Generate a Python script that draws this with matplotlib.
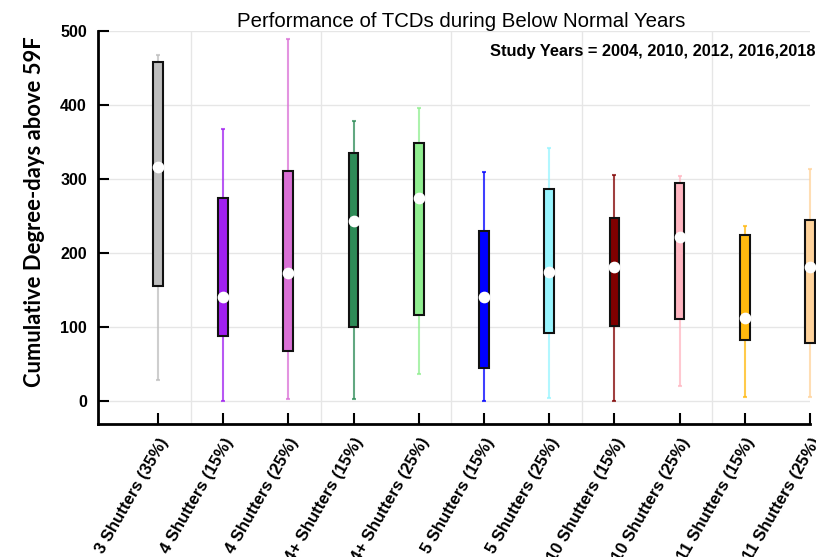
import numpy as np
import matplotlib
matplotlib.use("Agg")
import matplotlib.pyplot as plt

# data
categories = ["3 Shutters (35%)", "4 Shutters (15%)", "4 Shutters (25%)",
              "4+ Shutters (15%)", "4+ Shutters (25%)", "5 Shutters (15%)",
              "5 Shutters (25%)", "10 Shutters (15%)", "10 Shutters (25%)",
              "11 Shutters (15%)", "11 Shutters (25%)"]
box_low = [155, 88, 68, 100, 116, 45, 92, 102, 111, 82, 78]
box_high = [458, 275, 311, 335, 349, 230, 286, 248, 295, 225, 245]
whisk_low = [29, 0, 3, 3, 36, 0, 4, 0, 20, 5, 5]
whisk_high = [467, 368, 489, 379, 396, 310, 342, 305, 304, 237, 313]
medians = [316, 140, 173, 243, 275, 140, 175, 181, 221, 112, 181]
colors = ["#BEBEBE", "#A020F0", "#DA70D6", "#2E8B57", "#90EE90", "#0000FF",
          "#98F5FF", "#800000", "#FFB6C1", "#FFB90F", "#FFD39B"]

plt.rcParams['font.family'] = ['Liberation Sans', 'DejaVu Sans']

fig = plt.figure(figsize=(8.16, 5.57), dpi=100)
ax = fig.add_axes([98/816, 1-424/557, 712/816, 393/557])

x = np.arange(len(categories))
heights = np.array(box_high) - np.array(box_low)

# whiskers + caps
for i in range(len(x)):
    ax.vlines(x[i], whisk_low[i], whisk_high[i], color=colors[i], alpha=0.75,
              lw=1.5, zorder=2, clip_on=False)
    ax.hlines([whisk_low[i], whisk_high[i]], x[i]-0.03, x[i]+0.03, color=colors[i],
              alpha=0.75, lw=1.5, zorder=2, clip_on=False)

bars = ax.bar(x, heights, bottom=box_low, width=0.15, color=colors,
              edgecolor="#111111", linewidth=1.5, zorder=3)
for b in bars:
    b.set_clip_on(False)
ax.scatter(x, medians, s=55, color="white", zorder=4, clip_on=False)

ax.set_xlim(-0.92, 10)
ax.set_ylim(-31, 500)
ax.set_yticks([0, 100, 200, 300, 400, 500])
ax.set_xticks(x)
ax.set_xticklabels(categories, rotation=60, ha='right', rotation_mode='anchor',
                   fontsize=12, fontweight='bold')
for lab in ax.get_yticklabels():
    lab.set_fontweight('bold')
    lab.set_fontsize(11.5)

ax.set_xticks([0.5, 2.5, 4.5, 6.5, 8.5], minor=True)
ax.grid(axis='y', color="#E6E6E6", lw=1, zorder=0)
ax.grid(axis='x', which='minor', color="#E6E6E6", lw=1, zorder=0)
ax.tick_params(which='minor', length=0)
ax.tick_params(direction='in', length=8, width=1.5)
ax.tick_params(axis='x', pad=8)
ax.tick_params(axis='y', pad=8)
ax.set_axisbelow(True)

for s in ['top', 'right']:
    ax.spines[s].set_visible(False)
for s in ['left', 'bottom']:
    ax.spines[s].set_linewidth(2)

fig.text(461/816, 1-27/557, "Performance of TCDs during Below Normal Years",
         ha='center', va='baseline', fontsize=14.7)
fig.text(490/816, 1-56/557, "Study Years = 2004, 2010, 2012, 2016,2018",
         ha='left', va='baseline', fontsize=11.8, fontweight='bold')
fig.text(35/816, 1-212/557, "Cumulative Degree-days above 59F", rotation=90,
         ha='center', va='center', fontsize=15.8, fontweight='bold', family='Lato')

fig.savefig("out.png", dpi=100)
